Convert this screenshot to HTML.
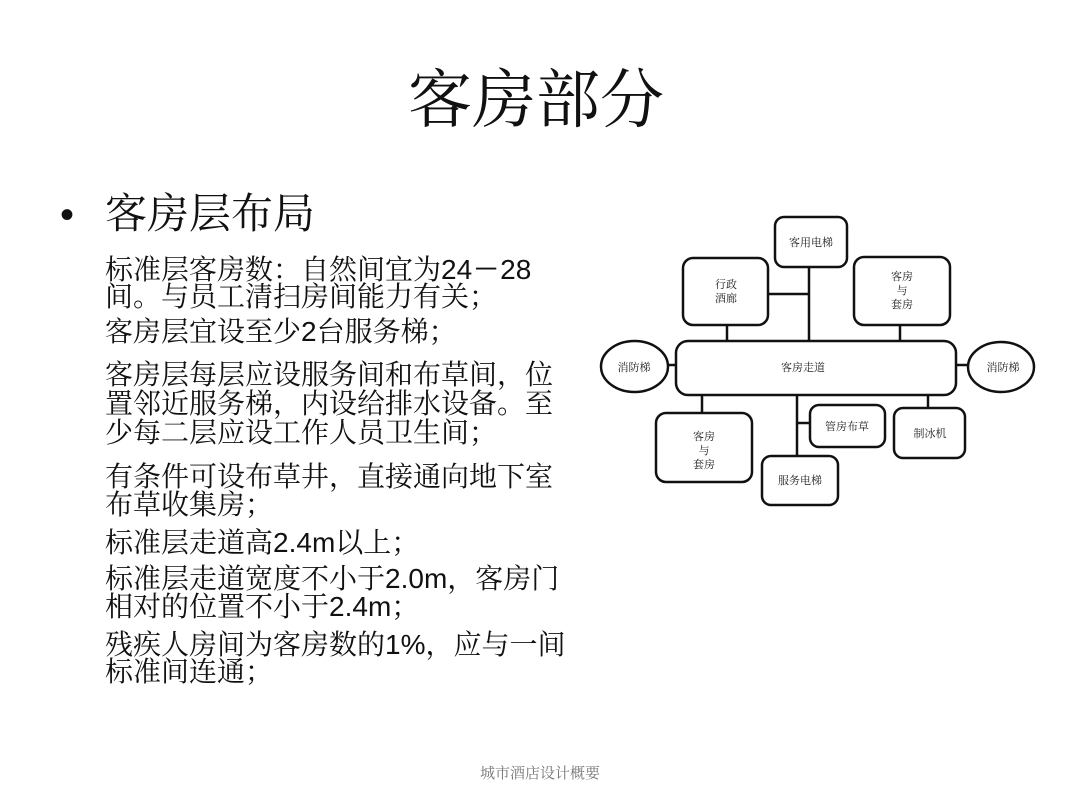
<!DOCTYPE html>
<html><head><meta charset="utf-8"><style>
body{margin:0;width:1080px;height:810px;background:#fff;position:relative;overflow:hidden;font-family:"Liberation Serif","Noto Serif CJK SC",serif;color:#111}
.t{position:absolute;white-space:nowrap}
.b{font-size:28px;line-height:28px;left:105px}
</style></head><body>
<div class="t" style="left:408px;top:66px;font-size:64px;line-height:70px">客房部分</div>
<div class="t" style="left:60px;top:192px;font-size:40px;line-height:46px;font-family:'Liberation Sans',sans-serif">•</div>
<div class="t" style="left:105px;top:192px;font-size:42px;line-height:46px">客房层布局</div>
<div class="t b" style="top:256px">标准层客房数：自然间宜为<span style="font-family:'Liberation Sans',sans-serif">24－28</span></div>
<div class="t b" style="top:284px">间。与员工清扫房间能力有关；</div>
<div class="t b" style="top:318px">客房层宜设至少<span style="font-family:'Liberation Sans',sans-serif">2</span>台服务梯；</div>
<div class="t b" style="top:362px">客房层每层应设服务间和布草间，位</div>
<div class="t b" style="top:391px">置邻近服务梯，内设给排水设备。至</div>
<div class="t b" style="top:420px">少每二层应设工作人员卫生间；</div>
<div class="t b" style="top:464px">有条件可设布草井，直接通向地下室</div>
<div class="t b" style="top:492px">布草收集房；</div>
<div class="t b" style="top:529px">标准层走道高<span style="font-family:'Liberation Sans',sans-serif">2.4m</span>以上；</div>
<div class="t b" style="top:565px">标准层走道宽度不小于<span style="font-family:'Liberation Sans',sans-serif">2.0m</span>，客房门</div>
<div class="t b" style="top:593px">相对的位置不小于<span style="font-family:'Liberation Sans',sans-serif">2.4m</span>；</div>
<div class="t b" style="top:631px">残疾人房间为客房数的<span style="font-family:'Liberation Sans',sans-serif">1%</span>，应与一间</div>
<div class="t b" style="top:659px">标准间连通；</div>
<div class="t" style="left:0;width:1080px;text-align:center;top:762px;font-size:15px;color:#777">城市酒店设计概要</div>
<svg width="1080" height="810" style="position:absolute;left:0;top:0" font-family="Liberation Serif,Noto Serif CJK SC,serif" font-size="11" fill="none" stroke="#111" stroke-width="2.5">
<g>
<line x1="809" y1="267" x2="809" y2="341"/>
<line x1="768" y1="294" x2="809" y2="294"/>
<line x1="727" y1="325" x2="727" y2="341"/>
<line x1="900" y1="325" x2="900" y2="341"/>
<line x1="668" y1="365" x2="676" y2="365"/>
<line x1="956" y1="365" x2="968" y2="365"/>
<line x1="702" y1="395" x2="702" y2="413"/>
<line x1="797" y1="395" x2="797" y2="456"/>
<line x1="797" y1="423" x2="810" y2="423"/>
<line x1="928" y1="395" x2="928" y2="408"/>
<rect x="775" y="217" width="72" height="50" rx="9"/>
<rect x="683" y="258" width="85" height="67" rx="10"/>
<rect x="854" y="257" width="96" height="68" rx="10"/>
<rect x="676" y="341" width="280" height="54" rx="12"/>
<ellipse cx="634.5" cy="366.5" rx="33.5" ry="25.5"/>
<ellipse cx="1001" cy="367" rx="33" ry="25"/>
<rect x="656" y="413" width="96" height="69" rx="10"/>
<rect x="810" y="405" width="75" height="42" rx="9"/>
<rect x="894" y="408" width="71" height="50" rx="9"/>
<rect x="762" y="456" width="76" height="49" rx="9"/>
</g>
<g fill="#222" stroke="none" text-anchor="middle">
<text x="811" y="246">客用电梯</text>
<text x="726" y="288">行政</text><text x="726" y="302">酒廊</text>
<text x="902" y="280">客房</text><text x="902" y="294">与</text><text x="902" y="308">套房</text>
<text x="634" y="371">消防梯</text>
<text x="1003" y="371">消防梯</text>
<text x="803" y="371">客房走道</text>
<text x="704" y="440">客房</text><text x="704" y="454">与</text><text x="704" y="468">套房</text>
<text x="847" y="430">管房布草</text>
<text x="930" y="437">制冰机</text>
<text x="800" y="484">服务电梯</text>
</g>
</svg>
</body></html>
